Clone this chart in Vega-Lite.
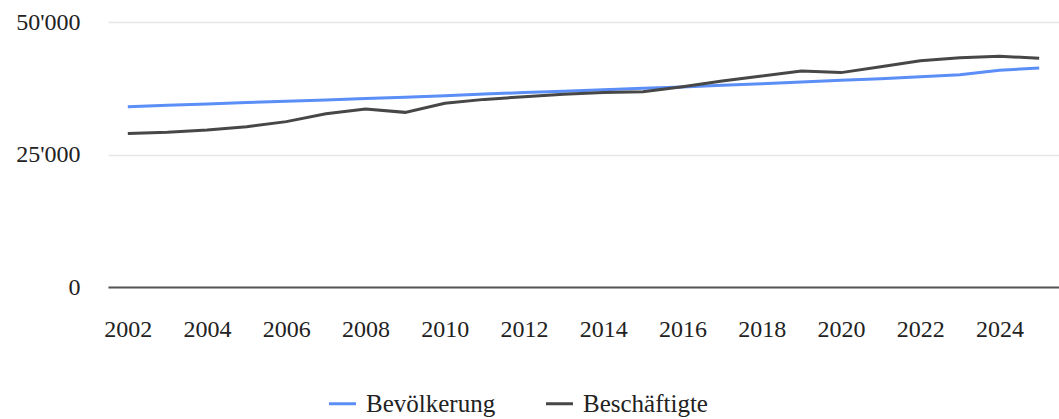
{
  "$schema": "https://vega.github.io/schema/vega-lite/v6.json",
  "autosize": "none",
  "width": 951,
  "height": 265,
  "padding": {"left": 108, "top": 22, "right": 0, "bottom": 132},
  "background": "white",
  "config": {
    "view": {"stroke": null},
    "font": "Liberation Serif"
  },
  "data": {
    "values": [
      {"Jahr": 2002, "Reihe": "Bevölkerung", "Wert": 34000},
      {"Jahr": 2003, "Reihe": "Bevölkerung", "Wert": 34300},
      {"Jahr": 2004, "Reihe": "Bevölkerung", "Wert": 34550},
      {"Jahr": 2005, "Reihe": "Bevölkerung", "Wert": 34800},
      {"Jahr": 2006, "Reihe": "Bevölkerung", "Wert": 35050},
      {"Jahr": 2007, "Reihe": "Bevölkerung", "Wert": 35300},
      {"Jahr": 2008, "Reihe": "Bevölkerung", "Wert": 35550},
      {"Jahr": 2009, "Reihe": "Bevölkerung", "Wert": 35800},
      {"Jahr": 2010, "Reihe": "Bevölkerung", "Wert": 36100},
      {"Jahr": 2011, "Reihe": "Bevölkerung", "Wert": 36400},
      {"Jahr": 2012, "Reihe": "Bevölkerung", "Wert": 36700},
      {"Jahr": 2013, "Reihe": "Bevölkerung", "Wert": 36950},
      {"Jahr": 2014, "Reihe": "Bevölkerung", "Wert": 37200},
      {"Jahr": 2015, "Reihe": "Bevölkerung", "Wert": 37500},
      {"Jahr": 2016, "Reihe": "Bevölkerung", "Wert": 37750},
      {"Jahr": 2017, "Reihe": "Bevölkerung", "Wert": 38050},
      {"Jahr": 2018, "Reihe": "Bevölkerung", "Wert": 38350},
      {"Jahr": 2019, "Reihe": "Bevölkerung", "Wert": 38700},
      {"Jahr": 2020, "Reihe": "Bevölkerung", "Wert": 39000},
      {"Jahr": 2021, "Reihe": "Bevölkerung", "Wert": 39300},
      {"Jahr": 2022, "Reihe": "Bevölkerung", "Wert": 39650},
      {"Jahr": 2023, "Reihe": "Bevölkerung", "Wert": 40050},
      {"Jahr": 2024, "Reihe": "Bevölkerung", "Wert": 40900},
      {"Jahr": 2025, "Reihe": "Bevölkerung", "Wert": 41300},
      {"Jahr": 2002, "Reihe": "Beschäftigte", "Wert": 28950},
      {"Jahr": 2003, "Reihe": "Beschäftigte", "Wert": 29200},
      {"Jahr": 2004, "Reihe": "Beschäftigte", "Wert": 29630},
      {"Jahr": 2005, "Reihe": "Beschäftigte", "Wert": 30250},
      {"Jahr": 2006, "Reihe": "Beschäftigte", "Wert": 31200},
      {"Jahr": 2007, "Reihe": "Beschäftigte", "Wert": 32700},
      {"Jahr": 2008, "Reihe": "Beschäftigte", "Wert": 33600},
      {"Jahr": 2009, "Reihe": "Beschäftigte", "Wert": 32950},
      {"Jahr": 2010, "Reihe": "Beschäftigte", "Wert": 34650},
      {"Jahr": 2011, "Reihe": "Beschäftigte", "Wert": 35400},
      {"Jahr": 2012, "Reihe": "Beschäftigte", "Wert": 35900},
      {"Jahr": 2013, "Reihe": "Beschäftigte", "Wert": 36350},
      {"Jahr": 2014, "Reihe": "Beschäftigte", "Wert": 36700},
      {"Jahr": 2015, "Reihe": "Beschäftigte", "Wert": 36850},
      {"Jahr": 2016, "Reihe": "Beschäftigte", "Wert": 37800},
      {"Jahr": 2017, "Reihe": "Beschäftigte", "Wert": 38850},
      {"Jahr": 2018, "Reihe": "Beschäftigte", "Wert": 39800},
      {"Jahr": 2019, "Reihe": "Beschäftigte", "Wert": 40750},
      {"Jahr": 2020, "Reihe": "Beschäftigte", "Wert": 40450},
      {"Jahr": 2021, "Reihe": "Beschäftigte", "Wert": 41550},
      {"Jahr": 2022, "Reihe": "Beschäftigte", "Wert": 42700},
      {"Jahr": 2023, "Reihe": "Beschäftigte", "Wert": 43250},
      {"Jahr": 2024, "Reihe": "Beschäftigte", "Wert": 43550},
      {"Jahr": 2025, "Reihe": "Beschäftigte", "Wert": 43150}
    ]
  },
  "mark": {"type": "line", "strokeWidth": 3, "interpolate": "linear"},
  "encoding": {
    "x": {
      "field": "Jahr",
      "type": "quantitative",
      "scale": {"domain": [2001.5, 2025.5], "nice": false, "zero": false},
      "axis": {
        "title": null,
        "values": [2002, 2004, 2006, 2008, 2010, 2012, 2014, 2016, 2018, 2020, 2022, 2024],
        "format": "d",
        "grid": false,
        "ticks": false,
        "domain": true,
        "domainColor": "#555555",
        "domainWidth": 2,
        "labelFont": "Liberation Serif",
        "labelFontSize": 24,
        "labelColor": "#222222",
        "labelPadding": 30
      }
    },
    "y": {
      "field": "Wert",
      "type": "quantitative",
      "scale": {"domain": [0, 50000], "nice": false},
      "axis": {
        "title": null,
        "values": [0, 25000, 50000],
        "labelExpr": "replace(format(datum.value, ','), ',', \"'\")",
        "grid": true,
        "gridColor": "#e6e6e6",
        "gridWidth": 1.5,
        "ticks": false,
        "domain": false,
        "labelFont": "Liberation Serif",
        "labelFontSize": 24,
        "labelColor": "#222222",
        "labelPadding": 28
      }
    },
    "color": {
      "field": "Reihe",
      "type": "nominal",
      "scale": {"domain": ["Bevölkerung", "Beschäftigte"], "range": ["#5b8ef7", "#474747"]},
      "legend": {
        "title": null,
        "orient": "none",
        "direction": "horizontal",
        "legendX": 219,
        "legendY": 366,
        "symbolType": "stroke",
        "symbolSize": 730,
        "symbolStrokeWidth": 3,
        "labelFont": "Liberation Serif",
        "labelFontSize": 25,
        "labelColor": "#222222",
        "labelOffset": 8,
        "columnPadding": 43
      }
    }
  }
}
